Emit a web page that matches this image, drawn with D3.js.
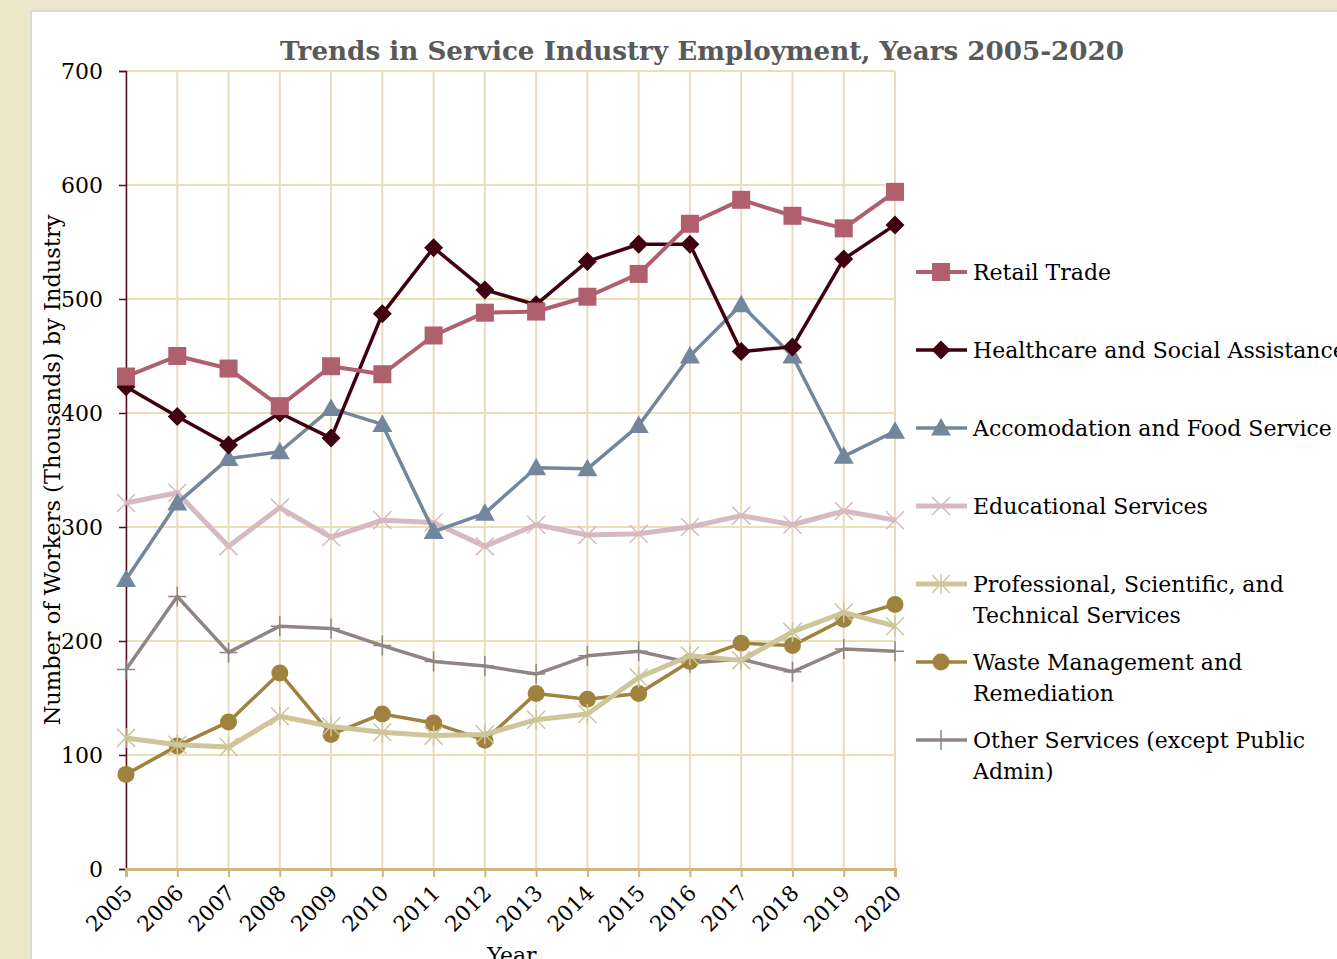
<!DOCTYPE html>
<html>
<head>
<meta charset="utf-8">
<script src="https://cdn.jsdelivr.net/npm/d3@7"></script>
<style>
  body { margin: 0; background: #ede6ca; overflow: hidden; }
  text { font-family: "DejaVu Serif", serif; }
</style>
</head>
<body>
<div id="chart"></div>
<script>
// Data
const years = [2005, 2006, 2007, 2008, 2009, 2010, 2011, 2012, 2013, 2014, 2015, 2016, 2017, 2018, 2019, 2020];
const yTicks = [0, 100, 200, 300, 400, 500, 600, 700];

const retailTrade   = [432, 450, 439, 406, 441, 434, 468, 488, 489, 502, 522, 566, 587, 573, 562, 594];
const healthcare    = [423, 397, 372, 400, 378, 487, 545, 508, 495, 533, 548, 548, 454, 458, 535, 565];
const accomodation  = [254, 321, 360, 366, 404, 390, 296, 312, 352, 351, 389, 450, 495, 450, 362, 384];
const educational   = [321, 330, 283, 317, 291, 306, 304, 283, 302, 293, 294, 300, 310, 302, 314, 306];
const professional  = [115, 109, 107, 134, 125, 120, 117, 118, 131, 136, 168, 187, 183, 208, 225, 213];
const wasteMgmt     = [83, 108, 129, 172, 118, 136, 128, 113, 154, 149, 154, 182, 198, 196, 219, 232];
const otherServices = [175, 239, 190, 213, 211, 196, 182, 178, 171, 187, 191, 181, 184, 173, 193, 191];

const seriesNames = [
  ["Retail Trade"],
  ["Healthcare and Social Assistance"],
  ["Accomodation and Food Service"],
  ["Educational Services"],
  ["Professional, Scientific, and", "Technical Services"],
  ["Waste Management and", "Remediation"],
  ["Other Services (except Public", "Admin)"]
];

const series = [
  { name: seriesNames[0], values: retailTrade,   color: "#b05f6d", width: 4,   marker: "square" },
  { name: seriesNames[1], values: healthcare,    color: "#3f0010", width: 3.5, marker: "diamond" },
  { name: seriesNames[2], values: accomodation,  color: "#74869c", width: 3.5, marker: "triangle" },
  { name: seriesNames[3], values: educational,   color: "#d7b9c1", width: 5,   marker: "x" },
  { name: seriesNames[4], values: professional,  color: "#cec59a", width: 5,   marker: "star" },
  { name: seriesNames[5], values: wasteMgmt,     color: "#a0823f", width: 3.5, marker: "circle" },
  { name: seriesNames[6], values: otherServices, color: "#8f8487", width: 3.5, marker: "plus" }
];

const width = 1337, height = 959;
const plotLeft = 126, plotRight = 895, plotTop = 71, plotBottom = 869;

const svg = d3.select("#chart").append("svg")
  .attr("width", width)
  .attr("height", height);

// white panel
svg.append("rect")
  .attr("x", 31).attr("y", 11)
  .attr("width", width).attr("height", height)
  .attr("fill", "#fff")
  .attr("stroke", "#d9d9d9")
  .attr("stroke-width", 2);

const x = d3.scalePoint().domain(years).range([plotLeft, plotRight]);
const y = d3.scaleLinear().domain([0, 700]).range([plotBottom, plotTop]);

// gridlines
svg.append("g")
  .selectAll("line")
  .data(years)
  .join("line")
  .attr("x1", d => x(d)).attr("x2", d => x(d))
  .attr("y1", plotTop).attr("y2", plotBottom)
  .attr("stroke", "#e8dcc0")
  .attr("stroke-width", 2);

svg.append("g")
  .selectAll("line")
  .data(yTicks.slice(1))
  .join("line")
  .attr("x1", plotLeft).attr("x2", plotRight)
  .attr("y1", d => y(d)).attr("y2", d => y(d))
  .attr("stroke", "#e9e0b5")
  .attr("stroke-width", 2);

// y axis
const yAxis = svg.append("g")
  .attr("transform", `translate(${plotLeft},0)`)
  .call(d3.axisLeft(y).tickValues(yTicks).tickSize(7).tickPadding(16));
yAxis.select(".domain").attr("stroke", "#5a0a1f").attr("stroke-width", 1.5);
yAxis.selectAll(".tick line").attr("stroke", "#5a0a1f").attr("stroke-width", 1.5);
yAxis.selectAll("text")
  .attr("font-size", 22)
  .attr("fill", "#000")
  .attr("font-family", "DejaVu Serif");

// x axis
const xAxis = svg.append("g")
  .attr("transform", `translate(0,${plotBottom})`)
  .call(d3.axisBottom(x).tickSize(8).tickPadding(6));
xAxis.select(".domain").attr("stroke", "#cfb57f").attr("stroke-width", 3);
xAxis.selectAll(".tick line").attr("stroke", "#cfb57f").attr("stroke-width", 2);
xAxis.selectAll("text")
  .attr("font-size", 21.5)
  .attr("fill", "#000")
  .attr("font-family", "DejaVu Serif")
  .attr("text-anchor", "end")
  .attr("dy", "0.35em")
  .attr("transform", "translate(-8,10) rotate(-45)");

// title
svg.append("text")
  .attr("x", 702).attr("y", 60)
  .attr("text-anchor", "middle")
  .attr("font-size", 26.2)
  .attr("font-weight", "bold")
  .attr("fill", "#595959")
  .text("Trends in Service Industry Employment, Years 2005-2020");

// axis titles
svg.append("text")
  .attr("transform", "translate(60,470) rotate(-90)")
  .attr("text-anchor", "middle")
  .attr("font-size", 22.5)
  .attr("fill", "#000")
  .text("Number of Workers (Thousands) by Industry");

svg.append("text")
  .attr("x", 512).attr("y", 963)
  .attr("text-anchor", "middle")
  .attr("font-size", 22)
  .attr("fill", "#000")
  .text("Year");

// markers
function drawMarker(g, type, color, cx, cy) {
  if (type === "square") {
    g.append("rect").attr("x", cx - 9).attr("y", cy - 9).attr("width", 18).attr("height", 18).attr("fill", color);
  } else if (type === "diamond") {
    g.append("path").attr("d", `M${cx},${cy - 9.5}L${cx + 9.5},${cy}L${cx},${cy + 9.5}L${cx - 9.5},${cy}Z`).attr("fill", color);
  } else if (type === "triangle") {
    g.append("path").attr("d", `M${cx},${cy - 10}L${cx + 10},${cy + 7.5}L${cx - 10},${cy + 7.5}Z`).attr("fill", color);
  } else if (type === "circle") {
    g.append("circle").attr("cx", cx).attr("cy", cy).attr("r", 8.5).attr("fill", color);
  } else if (type === "x") {
    g.append("path").attr("d", `M${cx - 9},${cy - 9}L${cx + 9},${cy + 9}M${cx - 9},${cy + 9}L${cx + 9},${cy - 9}`)
      .attr("stroke", color).attr("stroke-width", 1.5);
  } else if (type === "star") {
    g.append("path").attr("d", `M${cx - 9},${cy - 9}L${cx + 9},${cy + 9}M${cx - 9},${cy + 9}L${cx + 9},${cy - 9}M${cx},${cy - 10}L${cx},${cy + 10}`)
      .attr("stroke", color).attr("stroke-width", 1.5);
  } else if (type === "plus") {
    g.append("path").attr("d", `M${cx - 9},${cy}L${cx + 9},${cy}M${cx},${cy - 10}L${cx},${cy + 10}`)
      .attr("stroke", color).attr("stroke-width", 1.5);
  }
}

const line = d3.line()
  .x((d, i) => x(years[i]))
  .y(d => y(d));

// draw series (bottom-most first so Retail Trade ends up on top)
series.slice().reverse().forEach(s => {
  const g = svg.append("g");
  g.append("path")
    .datum(s.values)
    .attr("d", line)
    .attr("fill", "none")
    .attr("stroke", s.color)
    .attr("stroke-width", s.width)
    .attr("stroke-linejoin", "round");
  s.values.forEach((v, i) => drawMarker(g, s.marker, s.color, x(years[i]), y(v)));
});

// legend
const legend = svg.append("g");
series.forEach((s, i) => {
  const ly = 272 + i * 78;
  const g = legend.append("g");
  g.append("line")
    .attr("x1", 916).attr("x2", 967)
    .attr("y1", ly).attr("y2", ly)
    .attr("stroke", s.color)
    .attr("stroke-width", s.width);
  drawMarker(g, s.marker, s.color, 941, ly);
  s.name.forEach((t, j) => {
    g.append("text")
      .attr("x", 973).attr("y", ly + j * 31)
      .attr("dy", "0.35em")
      .attr("font-size", 22)
      .attr("fill", "#000")
      .text(t);
  });
});
</script>
</body>
</html>
